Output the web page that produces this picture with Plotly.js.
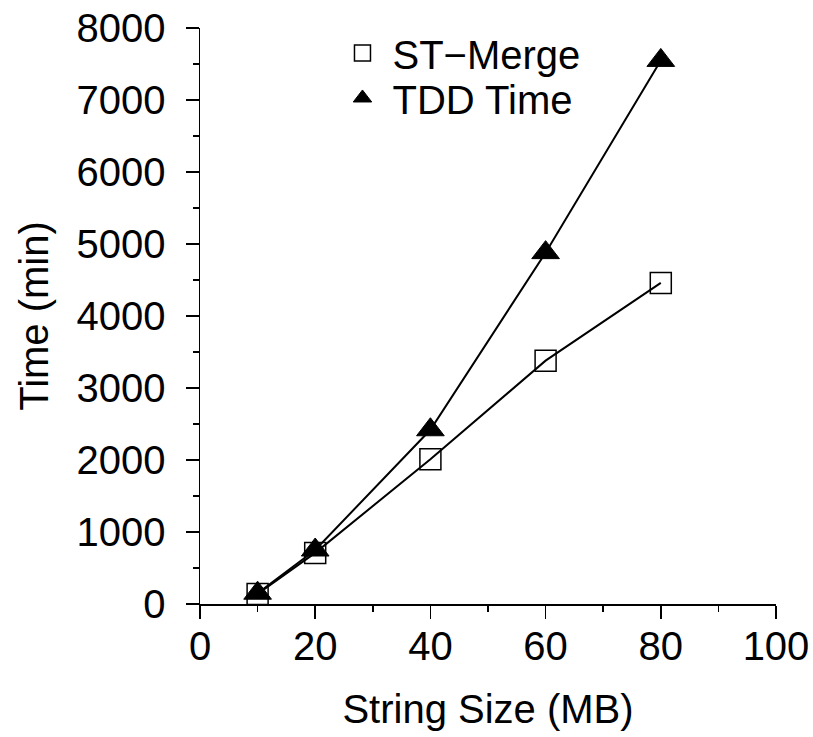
<!DOCTYPE html>
<html>
<head>
<meta charset="utf-8">
<script src="https://cdn.plot.ly/plotly-3.0.1.min.js"></script>
<style>html,body{margin:0;padding:0;background:#fff;}#chart{width:813px;height:737px;}</style>
</head>
<body>
<div id="chart"></div>
<script>
const sizesMB = [10, 20, 40, 60, 80];
const stMergeTime = [140, 710, 2010, 3380, 4460];
const tddTime = [150, 750, 2420, 4880, 7550];
const seriesNames = ["ST\u2212Merge", "TDD Time"];
const xTicks = [0, 20, 40, 60, 80, 100];
const yTicks = [0, 1000, 2000, 3000, 4000, 5000, 6000, 7000, 8000];

const font = "Liberation Sans, Arial, sans-serif";
const sqMarker = {symbol: "square-open", size: 21, color: "#000", line: {width: 1.5, color: "#000"}};
const triMarker = {symbol: "triangle-up", size: 24, color: "#000", line: {width: 1, color: "#000"}};

const traces = [
  {x: sizesMB, y: stMergeTime, mode: "lines+markers", line: {color: "#000", width: 2}, marker: sqMarker, showlegend: false, cliponaxis: false},
  {x: sizesMB, y: tddTime, mode: "lines+markers", line: {color: "#000", width: 2}, marker: triMarker, showlegend: false, cliponaxis: false},
  {x: [null], y: [null], mode: "markers", name: seriesNames[0], marker: sqMarker, legend: "legend"},
  {x: [null], y: [null], mode: "markers", name: seriesNames[1], marker: triMarker, legend: "legend2"}
];

const legendBase = {xanchor: "left", yanchor: "middle", bgcolor: "rgba(0,0,0,0)", font: {size: 40, color: "#000"}, itemwidth: 50};

const layout = {
  width: 813, height: 737,
  margin: {l: 200, r: 37, t: 28, b: 133},
  paper_bgcolor: "#fff", plot_bgcolor: "#fff",
  font: {family: font, size: 40, color: "#000"},
  showlegend: true,
  legend: Object.assign({x: 0.23, y: 0.9566}, legendBase),
  legend2: Object.assign({x: 0.23, y: 0.8785}, legendBase),
  xaxis: {
    range: [0, 100], tickvals: xTicks, ticktext: xTicks.map(String),
    showgrid: false, zeroline: false, showline: true, linecolor: "#000", linewidth: 1.5,
    ticks: "outside", ticklen: 13, tickwidth: 1.5, tickcolor: "#000",
    minor: {dtick: 10, ticks: "outside", ticklen: 6, tickwidth: 1.5, tickcolor: "#000", showgrid: false},
    tickfont: {size: 40}, ticklabelstandoff: -7,
    title: {text: "String Size (MB)", font: {size: 40}, standoff: 28}
  },
  yaxis: {
    range: [0, 8000], tickvals: yTicks, ticktext: yTicks.map(String),
    showgrid: false, zeroline: false, showline: true, linecolor: "#000", linewidth: 1.5,
    ticks: "outside", ticklen: 13, tickwidth: 1.5, tickcolor: "#000",
    minor: {dtick: 500, ticks: "outside", ticklen: 6, tickwidth: 1.5, tickcolor: "#000", showgrid: false},
    tickfont: {size: 40}, ticklabelstandoff: 12,
    title: {text: "Time (min)", font: {size: 40}, standoff: 15}
  }
};

Plotly.newPlot("chart", traces, layout, {displayModeBar: false, staticPlot: true});
</script>
</body>
</html>
